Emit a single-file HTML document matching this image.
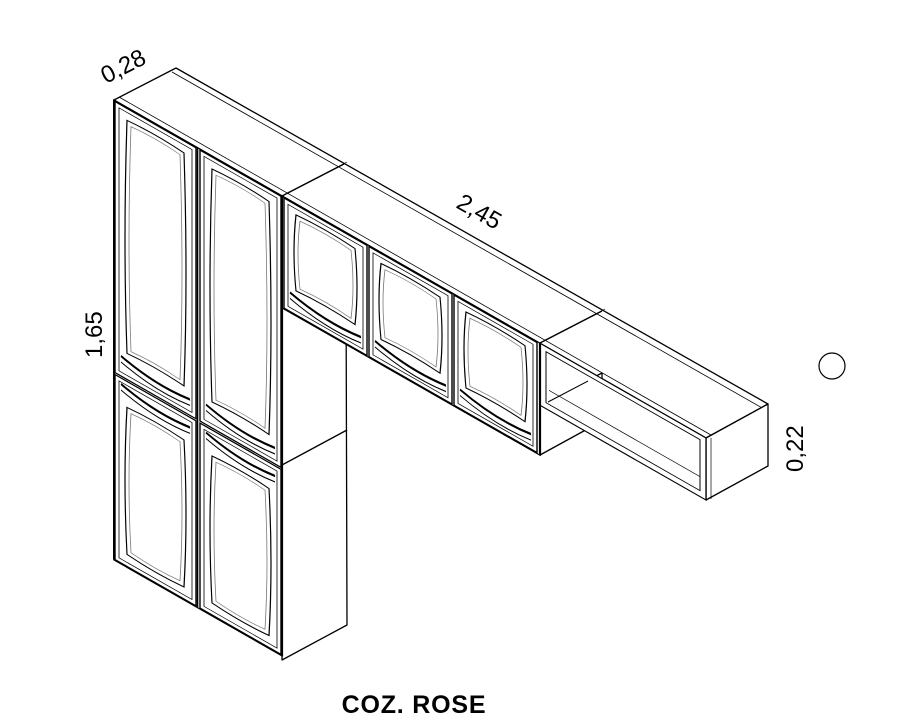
<!DOCTYPE html>
<html><head><meta charset="utf-8"><style>
html,body{margin:0;padding:0;background:#fff;width:908px;height:725px;overflow:hidden}
svg{display:block}
text{font-family:"Liberation Sans",sans-serif;fill:#000}
</style></head><body>
<svg width="908" height="725" viewBox="0 0 908 725" xmlns="http://www.w3.org/2000/svg">
<defs>
<g id="tu" fill="none" stroke="#000">
  <rect x="0" y="0" width="81" height="271" stroke-width="1.4"/>
  <rect x="4" y="4" width="73" height="263" stroke-width="0.8"/>
  <path d="M12,12 Q40.5,9 69,12 Q73,135 69,245 Q40.5,242 12,245 Q8,135 12,12 Z" stroke-width="1.2"/>
  <path d="M16,16 Q40.5,13 65,16 Q69,135 65,241 Q40.5,238 16,241 Q12,135 16,16 Z" stroke="#777" stroke-width="0.8"/>
  <path d="M6,251 Q40.5,261 75,255" stroke-width="2.4"/>
  <path d="M6,257 Q40.5,267 75,261" stroke-width="1.2"/>
</g>
<g id="tl" fill="none" stroke="#000">
  <rect x="0" y="0" width="81" height="185" stroke-width="1.4"/>
  <rect x="4" y="4" width="73" height="177" stroke-width="0.8"/>
  <path d="M12,26 Q40.5,23 69,26 Q73,100 69,173 Q40.5,176 12,173 Q8,100 12,26 Z" stroke-width="1.2"/>
  <path d="M16,30 Q40.5,27 65,30 Q69,100 65,169 Q40.5,172 16,169 Q12,100 16,30 Z" stroke="#777" stroke-width="0.8"/>
  <path d="M6,6 Q40.5,16 75,10" stroke-width="2.4"/>
  <path d="M6,12 Q40.5,22 75,16" stroke-width="1.2"/>
</g>
<g id="up" fill="none" stroke="#000">
  <rect x="0" y="0" width="83" height="110" stroke-width="1.4"/>
  <rect x="4" y="4" width="75" height="102" stroke-width="0.8"/>
  <path d="M12,10 Q41.5,7 71,10 Q75,48 71,86 Q41.5,83 12,86 Q8,48 12,10 Z" stroke-width="1.2"/>
  <path d="M16,14 Q41.5,11 67,14 Q71,48 67,82 Q41.5,79 16,82 Q12,48 16,14 Z" stroke="#777" stroke-width="0.8"/>
  <path d="M6,91 Q41.5,101 77,95" stroke-width="2.4"/>
  <path d="M6,97 Q41.5,107 77,101" stroke-width="1.2"/>
</g>
</defs>

<g fill="#fff" stroke="#000" stroke-width="1.3" stroke-linejoin="round">
 <polygon points="114,100 176,68 768,404 706,438"/>
 <line x1="119" y1="97" x2="711" y2="435" stroke-width="0.8"/>
 <line x1="172" y1="72" x2="764" y2="409" stroke-width="0.8"/>
 <line x1="282" y1="196" x2="344" y2="164"/>
 <line x1="287" y1="193" x2="347" y2="162" stroke-width="0.7"/>
 <line x1="540" y1="343" x2="602" y2="311"/>
 <line x1="545" y1="340" x2="605" y2="309" stroke-width="0.7"/>
 <polygon points="282,308 346,275 347,625 282,660"/>
 <line x1="282" y1="465" x2="347" y2="430"/>
 <polygon points="540,405 602,373 602,421 540,455"/>
 <polygon points="706,438 768,404 768,466 706,500"/>
 <line x1="711" y1="438" x2="711" y2="499" stroke-width="0.7"/>
</g>

<g transform="matrix(1 0.571 0 1 114 100)" fill="#fff" stroke="#000" stroke-width="1.3">
 <rect x="0" y="0" width="168" height="460"/>
 <rect x="168" y="0" width="258" height="112"/>
 <rect x="426" y="0" width="166" height="62"/>
 <rect x="432" y="5" width="154" height="51" stroke-width="1"/>
 <line x1="435" y1="42" x2="586" y2="42" stroke-width="0.8"/>
 <use href="#tu" x="1" y="1"/>
 <use href="#tu" x="86" y="1"/>
 <use href="#tl" x="1" y="274"/>
 <use href="#tl" x="86" y="274"/>
 <line x1="83.5" y1="0" x2="83.5" y2="460" stroke-width="1.6"/>
 <line x1="168" y1="0" x2="168" y2="460" stroke-width="2.2"/>
 <use href="#up" x="170" y="1"/>
 <use href="#up" x="255" y="1"/>
 <use href="#up" x="340" y="1"/>
 <line x1="426" y1="0" x2="426" y2="112" stroke-width="2.2"/>
 <line x1="0" y1="0" x2="0" y2="460" stroke-width="2"/>
</g>
<g stroke="#000" stroke-width="1" fill="none">
 <line x1="548" y1="402" x2="588" y2="381"/>
</g>

<text transform="translate(106,84) rotate(-27)" font-size="24">0,28</text>
<text transform="translate(455,207) rotate(29.7)" font-size="24">2,45</text>
<text transform="translate(102,358) rotate(-90)" font-size="24">1,65</text>
<text transform="translate(803,472) rotate(-90)" font-size="24">0,22</text>
<circle cx="832" cy="366" r="13" fill="none" stroke="#000" stroke-width="1.2"/>
<text x="414" y="713" font-size="25" font-weight="bold" text-anchor="middle" letter-spacing="0.8">COZ. ROSE</text>
</svg>
</body></html>
